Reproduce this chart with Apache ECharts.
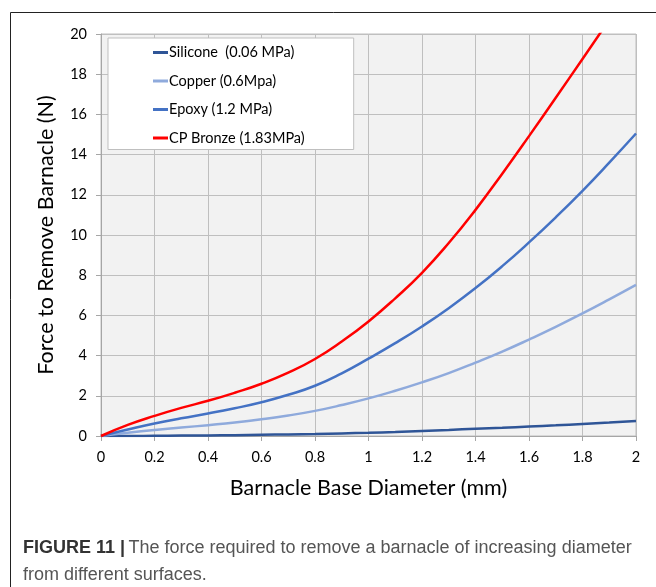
<!DOCTYPE html>
<html><head><meta charset="utf-8">
<script src="https://cdn.jsdelivr.net/npm/echarts@6/dist/echarts.min.js"></script>
<style>html,body{margin:0;padding:0;background:#fff}#c{width:656px;height:587px}</style>
</head><body><div id="c"></div>
<script>
const diameters = [0,0.1,0.2,0.3,0.4,0.5,0.6,0.7,0.8,0.9,1.0,1.1,1.2,1.3,1.4,1.5,1.6,1.7,1.8,1.9,2.0];
const silicone = [0,0,0.01,0.02,0.03,0.04,0.06,0.08,0.1,0.13,0.16,0.2,0.25,0.3,0.36,0.41,0.47,0.53,0.6,0.67,0.75];
const copper   = [0,0.16,0.3,0.42,0.54,0.67,0.83,1.02,1.25,1.54,1.87,2.25,2.67,3.13,3.65,4.2,4.8,5.43,6.1,6.8,7.52];
const epoxy    = [0,0.32,0.62,0.88,1.12,1.38,1.68,2.05,2.5,3.12,3.85,4.62,5.45,6.36,7.36,8.45,9.63,10.88,12.2,13.6,15.05];
const bronze   = [0,0.55,1.0,1.4,1.75,2.15,2.6,3.15,3.83,4.7,5.7,6.85,8.12,9.6,11.25,13.05,14.92,16.83,18.76,20.7,null];
const seriesNames = ['Silicone  (0.06 MPa)','Copper (0.6Mpa)','Epoxy (1.2 MPa)','CP Bronze (1.83MPa)'];
const seriesColors = ['#2f5597','#8faadc','#4472c4','#ff0000'];
const seriesValues = [silicone, copper, epoxy, bronze];
const xTicks = [0,0.2,0.4,0.6,0.8,1,1.2,1.4,1.6,1.8,2];

const FONT = 'Lato';
const chart = echarts.init(document.getElementById('c'), null, {renderer:'canvas'});
chart.setOption({
  animation:false,
  backgroundColor:'#fff',
  grid:{left:101,top:34,right:20,bottom:151,show:true,backgroundColor:'#f2f2f2',borderColor:'#bfbfbf',borderWidth:1},
  legend:{
    orient:'vertical', left:108, top:38,
    padding:[7,49,4,45], itemGap:13.5,
    backgroundColor:'#fff', borderColor:'#bfbfbf', borderWidth:1,
    itemWidth:15, itemHeight:3, icon:'rect',
    textStyle:{fontFamily:FONT,fontSize:14.5,color:'#000',padding:[0,0,0,-4]},
    data:seriesNames
  },
  xAxis:{
    type:'value', min:0, max:2, interval:0.2,
    name:'Barnacle Base Diameter (mm)', nameLocation:'middle', nameGap:41,
    nameTextStyle:{fontFamily:FONT,fontSize:21.5,color:'#000'},
    axisLine:{show:true,lineStyle:{color:'#a6a6a6'}},
    axisTick:{show:true,length:5,lineStyle:{color:'#a6a6a6'}},
    axisLabel:{fontFamily:FONT,fontSize:14.5,color:'#000',margin:14,
      formatter:v=>{const t=xTicks.find(k=>Math.abs(k-v)<1e-9);return t===undefined?'':String(t);}},
    splitLine:{show:true,lineStyle:{color:'#bfbfbf'}}
  },
  yAxis:{
    type:'value', min:0, max:20, interval:2,
    name:'Force to Remove Barnacle (N)', nameLocation:'middle', nameGap:44,
    nameTextStyle:{fontFamily:FONT,fontSize:21.5,color:'#000'},
    axisLine:{show:true,lineStyle:{color:'#a6a6a6'}},
    axisTick:{show:true,length:5,lineStyle:{color:'#a6a6a6'}},
    axisLabel:{fontFamily:FONT,fontSize:14.5,color:'#000',margin:14},
    splitLine:{show:true,lineStyle:{color:'#bfbfbf'}}
  },
  series: seriesNames.map((n,i)=>({
    name:n, type:'line', smooth:0.5, showSymbol:false, symbol:'none', clip:true,
    lineStyle:{color:seriesColors[i],width:2.5}, itemStyle:{color:seriesColors[i]},
    data: diameters.map((d,j)=>[d,seriesValues[i][j]]).filter(p=>p[1]!==null)
  })),
  graphic:[
    {type:'polyline',shape:{points:[[10.5,587],[10.5,12.5],[656,12.5]]},style:{stroke:'#222',lineWidth:1,fill:null},silent:true},
    {type:'text',left:23,top:539,style:{rich:{b:{fontFamily:'Liberation Sans',fontWeight:'bold',fontSize:18,fill:'#333'},n:{fontFamily:'Liberation Sans',fontSize:18,fill:'#555'}},text:'{b|FIGURE 11 |} {n|The force required to remove a barnacle of increasing diameter}'}},
    {type:'text',left:23,top:566,style:{fontFamily:'Liberation Sans',fontSize:18,fill:'#555',text:'from different surfaces.'}}
  ]
});
</script></body></html>
